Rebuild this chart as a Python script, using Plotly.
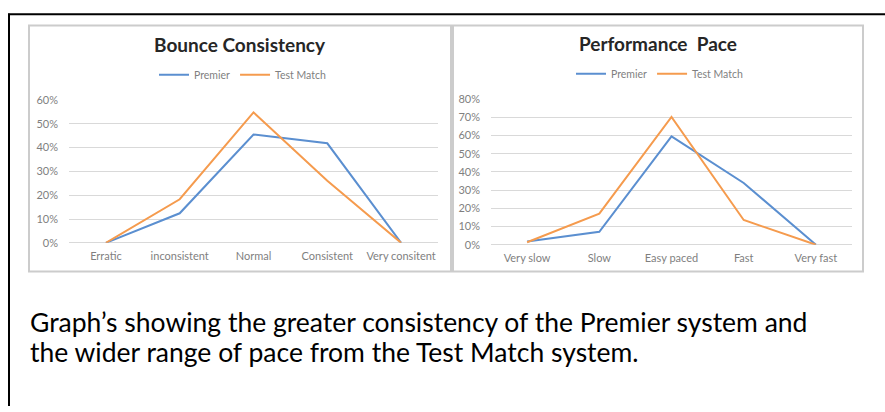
import plotly.graph_objects as go

W, H = 885, 412

# ---- data ----
bounce_categories = ["Erratic", "inconsistent", "Normal", "Consistent", "Very consitent"]
bounce_premier = [0.0, 0.124, 0.455, 0.418, 0.0]
bounce_testmatch = [0.0, 0.183, 0.548, 0.261, 0.0]

pace_categories = ["Very slow", "Slow", "Easy paced", "Fast", "Very fast"]
pace_premier = [0.018, 0.071, 0.595, 0.339, 0.0]
pace_testmatch = [0.014, 0.171, 0.702, 0.136, 0.0]

bounce_ticks = [0, 0.1, 0.2, 0.3, 0.4, 0.5, 0.6]
pace_ticks = [0, 0.1, 0.2, 0.3, 0.4, 0.5, 0.6, 0.7, 0.8]

titles = ["Bounce Consistency", "Performance  Pace"]
series_names = ["Premier", "Test Match"]
caption_lines = ["Graph\u2019s showing the greater consistency of the Premier system and",
                 "the wider range of pace from the Test Match system."]

BLUE = "#5B8FD0"
ORANGE = "#F59B4E"
GRID = "#D9D9D9"
TICK = "#7F7F7F"
FONT = "Lato"


def px_x(x):
    return x / W


def px_y(y):
    return 1 - y / H


fig = go.Figure()

fig.add_trace(go.Scatter(x=bounce_categories, y=bounce_premier, name=series_names[0],
                         mode="lines", line=dict(color=BLUE, width=2),
                         xaxis="x", yaxis="y", legend="legend"))
fig.add_trace(go.Scatter(x=bounce_categories, y=bounce_testmatch, name=series_names[1],
                         mode="lines", line=dict(color=ORANGE, width=2),
                         xaxis="x", yaxis="y", legend="legend"))
fig.add_trace(go.Scatter(x=pace_categories, y=pace_premier, name=series_names[0],
                         mode="lines", line=dict(color=BLUE, width=2),
                         xaxis="x2", yaxis="y2", legend="legend2"))
fig.add_trace(go.Scatter(x=pace_categories, y=pace_testmatch, name=series_names[1],
                         mode="lines", line=dict(color=ORANGE, width=2),
                         xaxis="x2", yaxis="y2", legend="legend2"))

xcommon = dict(type="category", showgrid=False, zeroline=False, showline=False,
               ticks="", tickfont=dict(family=FONT, size=11, color=TICK),
               ticklabelstandoff=5, range=[-0.5, 4.5], fixedrange=True)
ycommon = dict(showgrid=True, gridcolor=GRID, gridwidth=1, zeroline=True,
               zerolinecolor=GRID, zerolinewidth=1, showline=False, ticks="",
               tickformat=".0%", tickfont=dict(family=FONT, size=11, color=TICK),
               ticklabelstandoff=10, fixedrange=True)

legcommon = dict(orientation="h", xanchor="center", yanchor="middle",
                 font=dict(family=FONT, size=10.5, color=TICK),
                 bgcolor="rgba(0,0,0,0)", itemwidth=30, tracegroupgap=0)

fig.update_layout(
    width=W, height=H,
    margin=dict(l=0, r=0, t=0, b=0),
    paper_bgcolor="white", plot_bgcolor="white",
    xaxis=dict(xcommon, domain=[px_x(69), px_x(438)], anchor="y"),
    yaxis=dict(ycommon, domain=[px_y(243.5), px_y(96)], range=[0, 0.6],
               tickvals=bounce_ticks, anchor="x"),
    xaxis2=dict(xcommon, domain=[px_x(491), px_x(852)], anchor="y2"),
    yaxis2=dict(ycommon, domain=[px_y(245.5), px_y(95)], range=[0, 0.8],
                tickvals=pace_ticks, anchor="x2"),
    legend=dict(legcommon, x=px_x(243), y=px_y(70)),
    legend2=dict(legcommon, x=px_x(660), y=px_y(69)),
    showlegend=True,
)

# chart frames and outer border
shapes = [
    dict(type="rect", xref="paper", yref="paper", x0=px_x(29), x1=px_x(451),
         y0=px_y(273), y1=px_y(19), line=dict(color="#CCCCCC", width=2)),
    dict(type="rect", xref="paper", yref="paper", x0=px_x(453), x1=px_x(863),
         y0=px_y(273), y1=px_y(19), line=dict(color="#CCCCCC", width=2)),
    dict(type="line", xref="paper", yref="paper", x0=px_x(8), x1=1.0,
         y0=px_y(7.5), y1=px_y(7.5), line=dict(color="black", width=2)),
    dict(type="line", xref="paper", yref="paper", x0=px_x(9), x1=px_x(9),
         y0=0, y1=px_y(7), line=dict(color="black", width=2)),
]
fig.update_layout(shapes=shapes)

annotations = [
    dict(text="<b>%s</b>" % titles[0], xref="paper", yref="paper",
         x=px_x(240), y=px_y(39), xanchor="center", yanchor="middle",
         showarrow=False, font=dict(family=FONT, size=19, color="#262626")),
    dict(text="<b>%s</b>" % titles[1], xref="paper", yref="paper",
         x=px_x(658), y=px_y(38), xanchor="center", yanchor="middle",
         showarrow=False, font=dict(family=FONT, size=19, color="#262626")),
    dict(text=caption_lines[0], xref="paper", yref="paper", x=px_x(28), y=px_y(325),
         xanchor="left", yanchor="middle", align="left", showarrow=False,
         font=dict(family=FONT, size=26.5, color="black")),
    dict(text=caption_lines[1], xref="paper", yref="paper", x=px_x(28), y=px_y(356),
         xanchor="left", yanchor="middle", align="left", showarrow=False,
         font=dict(family=FONT, size=26.5, color="black")),
]
fig.update_layout(annotations=annotations)

fig.write_html("out.html", config={"displayModeBar": False},
               post_script="document.body.style.margin='0';")
